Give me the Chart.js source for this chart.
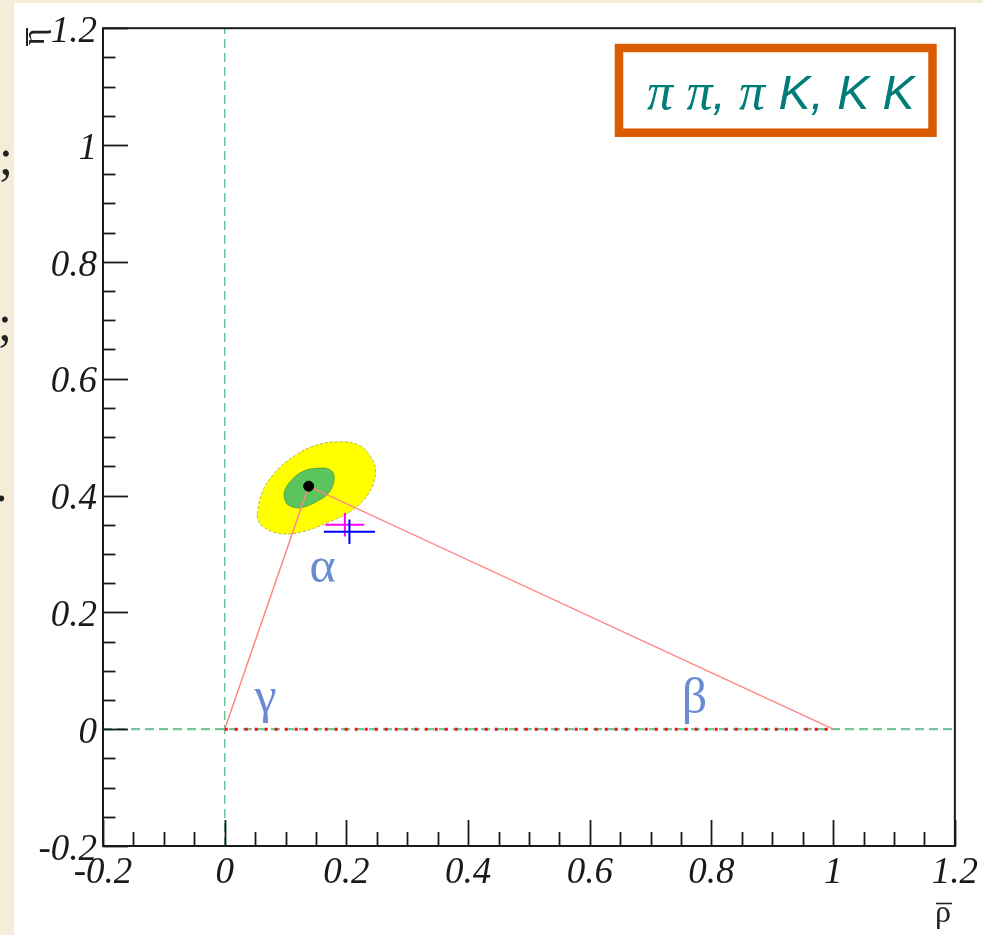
<!DOCTYPE html>
<html><head><meta charset="utf-8">
<script src="https://cdn.jsdelivr.net/npm/chart.js@4.4.1/dist/chart.umd.min.js"></script>
<style>html,body{margin:0;padding:0;background:#F6ECDA;}canvas{display:block;}</style>
</head><body>
<canvas id="c" width="983" height="935"></canvas>
<script>
// ---- axis ticks ----
const xTickValues = [-0.2, 0, 0.2, 0.4, 0.6, 0.8, 1, 1.2];
const xTickLabels = ['-0.2', '0', '0.2', '0.4', '0.6', '0.8', '1', '1.2'];
const yTickValues = [-0.2, 0, 0.2, 0.4, 0.6, 0.8, 1, 1.2];
const yTickLabels = ['-0.2', '0', '0.2', '0.4', '0.6', '0.8', '1', '1.2'];

// ---- reference lines ----
const vLineRho = [0, 0];
const vLineEta = [-0.2, 1.2];
const hLineRho = [-0.2, 1.2];
const hLineEta = [0, 0];

// ---- unitarity triangle ----
const triangleRho = [0, 0.138, 1];
const triangleEta = [0, 0.416, 0];
const baseRho = [0, 1];
const baseEta = [0, 0];
const apexRho = [0.138];
const apexEta = [0.416];

// ---- confidence-level contours ----
const yellowRho = [0.053, 0.060, 0.090, 0.128, 0.172, 0.210, 0.238, 0.248, 0.240, 0.221, 0.189, 0.150, 0.112, 0.079, 0.060, 0.053];
const yellowEta = [0.366, 0.349, 0.335, 0.338, 0.355, 0.375, 0.406, 0.441, 0.466, 0.486, 0.492, 0.486, 0.466, 0.435, 0.401, 0.366];
const greenRho = [0.098, 0.104, 0.123, 0.150, 0.172, 0.180, 0.175, 0.156, 0.128, 0.107, 0.098, 0.098];
const greenEta = [0.395, 0.384, 0.379, 0.389, 0.406, 0.429, 0.443, 0.447, 0.441, 0.423, 0.406, 0.395];

// ---- measured points with errors ----
const crossRho = [0.1975, 0.205];
const crossEta = [0.350, 0.338];
const crossRhoErr = [0.032, 0.042];
const crossEtaErr = [0.020, 0.021];

// ---- angle labels ----
const greekText = ['α', 'γ', 'β'];
const greekRho = [0.161, 0.067, 0.772];
const greekEta = [0.252, 0.029, 0.028];

const boxTitle = ['π', ' ', 'π', ', ', 'π', ' K, K K'];

const pts = (xs, ys) => xs.map((v, i) => ({x: v, y: ys[i]}));

const crossColors = ['#FF00FF', '#0000FF'];
const crossSets = [];
crossRho.forEach((r, i) => {
  crossSets.push({data: [{x: r - crossRhoErr[i], y: crossEta[i]}, {x: r + crossRhoErr[i], y: crossEta[i]}],
    showLine: true, borderColor: crossColors[i], borderWidth: 2, pointRadius: 0, order: 1 - i * 0.1});
  crossSets.push({data: [{x: r, y: crossEta[i] - crossEtaErr[i]}, {x: r, y: crossEta[i] + crossEtaErr[i]}],
    showLine: true, borderColor: crossColors[i], borderWidth: 2, pointRadius: 0, order: 1 - i * 0.1});
});

const datasets = [
  {data: pts(vLineRho, vLineEta), showLine: true, borderColor: 'rgb(105,195,150)', borderWidth: 1.5, borderDash: [9, 5], pointRadius: 0, order: 10},
  {data: pts(hLineRho, hLineEta), showLine: true, borderColor: 'rgb(115,200,155)', borderWidth: 2.2, borderDash: [9, 5], pointRadius: 0, order: 10},
  {data: pts(yellowRho, yellowEta), showLine: true, tension: 0.4, fill: 'shape', backgroundColor: '#FFFF00', borderColor: 'rgba(150,150,70,0.7)', borderWidth: 1, borderDash: [3, 2], pointRadius: 0, order: 8},
  {data: pts(greenRho, greenEta), showLine: true, tension: 0.4, fill: 'shape', backgroundColor: 'rgb(92,196,92)', borderColor: 'rgba(60,140,60,0.6)', borderWidth: 1, pointRadius: 0, order: 7},
  {data: pts(triangleRho, triangleEta), showLine: true, borderColor: 'rgb(255,135,135)', borderWidth: 1.5, pointRadius: 0, order: 6},
  {data: pts(baseRho, baseEta), showLine: true, borderColor: '#F01010', borderWidth: 3, borderDash: [3, 7], pointRadius: 0, order: 5},
  {data: pts(apexRho, apexEta), showLine: false, pointRadius: 5, backgroundColor: '#000', borderColor: '#000', order: 4},
  ...crossSets
];

const bgPlugin = {
  id: 'bg',
  beforeDraw(chart) {
    const ctx = chart.ctx;
    ctx.save();
    ctx.fillStyle = '#F6ECDA';
    ctx.fillRect(0, 0, 983, 935);
    ctx.fillStyle = '#FFFFFF';
    ctx.fillRect(14, 3, 969, 932);
    ctx.restore();
  }
};

const framePlugin = {
  id: 'frame',
  afterDatasetsDraw(chart) {
    const {ctx, chartArea: a, scales: {x, y}} = chart;
    ctx.save();
    ctx.strokeStyle = '#1a1a1a';
    ctx.lineWidth = 2;
    ctx.strokeRect(a.left, a.top, a.right - a.left, a.bottom - a.top);
    ctx.lineWidth = 1.8;
    for (let i = 0; i <= 28; i++) {
      const v = -0.2 + i * 0.05;
      const major = i % 4 === 0;
      const px = Math.round(x.getPixelForValue(v)) + 0.5;
      ctx.beginPath(); ctx.moveTo(px, a.bottom); ctx.lineTo(px, a.bottom - (major ? 26 : 14)); ctx.stroke();
      const py = Math.round(y.getPixelForValue(v)) + 0.5;
      ctx.beginPath(); ctx.moveTo(a.left, py); ctx.lineTo(a.left + (major ? 25 : 12.5), py); ctx.stroke();
    }
    ctx.restore();
  },
  afterDraw(chart) {
    const {ctx, scales: {x, y}} = chart;
    ctx.save();
    // Greek angle labels
    ctx.fillStyle = 'rgb(105,140,210)';
    ctx.font = '50px "Liberation Serif"';
    ctx.textAlign = 'center';
    ctx.textBaseline = 'alphabetic';
    greekText.forEach((t, i) => ctx.fillText(t, x.getPixelForValue(greekRho[i]), y.getPixelForValue(greekEta[i])));

    // Title box
    ctx.strokeStyle = '#DB5C00';
    ctx.lineWidth = 8.5;
    ctx.strokeRect(619, 48, 313.5, 84.7);
    ctx.fillStyle = '#007D78';
    ctx.textAlign = 'left';
    let cx = 647;
    boxTitle.forEach(t => {
      ctx.font = (t === 'π') ? 'italic 52px "Liberation Serif"' : 'italic 48px "Liberation Sans"';
      ctx.fillText(t, cx, 109);
      cx += ctx.measureText(t).width;
    });

    // x-axis title rho-bar
    ctx.fillStyle = '#222';
    ctx.strokeStyle = '#222';
    ctx.font = '32px "Liberation Serif"';
    ctx.fillText('ρ', 935, 922);
    ctx.lineWidth = 1.6;
    ctx.beginPath(); ctx.moveTo(936, 903.5); ctx.lineTo(952, 903.5); ctx.stroke();

    // y-axis title eta-bar (rotated, partly hidden)
    ctx.translate(44, 37);
    ctx.rotate(-Math.PI / 2);
    ctx.font = '32px "Liberation Serif"';
    ctx.textAlign = 'center';
    ctx.fillText('η', 0, 0);
    ctx.lineWidth = 2;
    ctx.beginPath(); ctx.moveTo(-9, -17); ctx.lineTo(9, -17); ctx.stroke();
    ctx.setTransform(1, 0, 0, 1, 0, 0);

    // slide remnants on the left strip
    ctx.fillStyle = '#222';
    ctx.textAlign = 'left';
    ctx.font = '50px "Liberation Serif"';
    ctx.fillText(';', -1, 174);
    ctx.fillText(';', -2, 340);
    ctx.fillText('.', -5, 501);
    ctx.restore();
  }
};

const tickFont = {family: '"Liberation Serif"', size: 37, style: 'italic'};

new Chart(document.getElementById('c'), {
  type: 'scatter',
  data: {datasets},
  options: {
    responsive: false,
    devicePixelRatio: 1,
    animation: false,
    layout: {padding: {left: 0, top: 28, right: 26, bottom: 0}},
    plugins: {legend: {display: false}, tooltip: {enabled: false}},
    scales: {
      x: {
        type: 'linear', min: -0.2, max: 1.2,
        grid: {display: false, drawTicks: false},
        border: {display: false},
        afterBuildTicks: s => { s.ticks = xTickValues.map(v => ({value: v})); },
        afterFit: s => { s.height = 89; },
        ticks: {font: tickFont, color: '#1a1a1a', padding: 5, maxRotation: 0, autoSkip: false,
          callback: (v, i) => xTickLabels[i]}
      },
      y: {
        type: 'linear', min: -0.2, max: 1.2,
        grid: {display: false, drawTicks: false},
        border: {display: false},
        afterBuildTicks: s => { s.ticks = yTickValues.map(v => ({value: v})); },
        afterFit: s => { s.width = 103; },
        ticks: {font: tickFont, color: '#1a1a1a', padding: 6, labelOffset: 4, autoSkip: false,
          callback: (v, i) => yTickLabels[i]}
      }
    }
  },
  plugins: [bgPlugin, framePlugin]
});
</script>
</body></html>
